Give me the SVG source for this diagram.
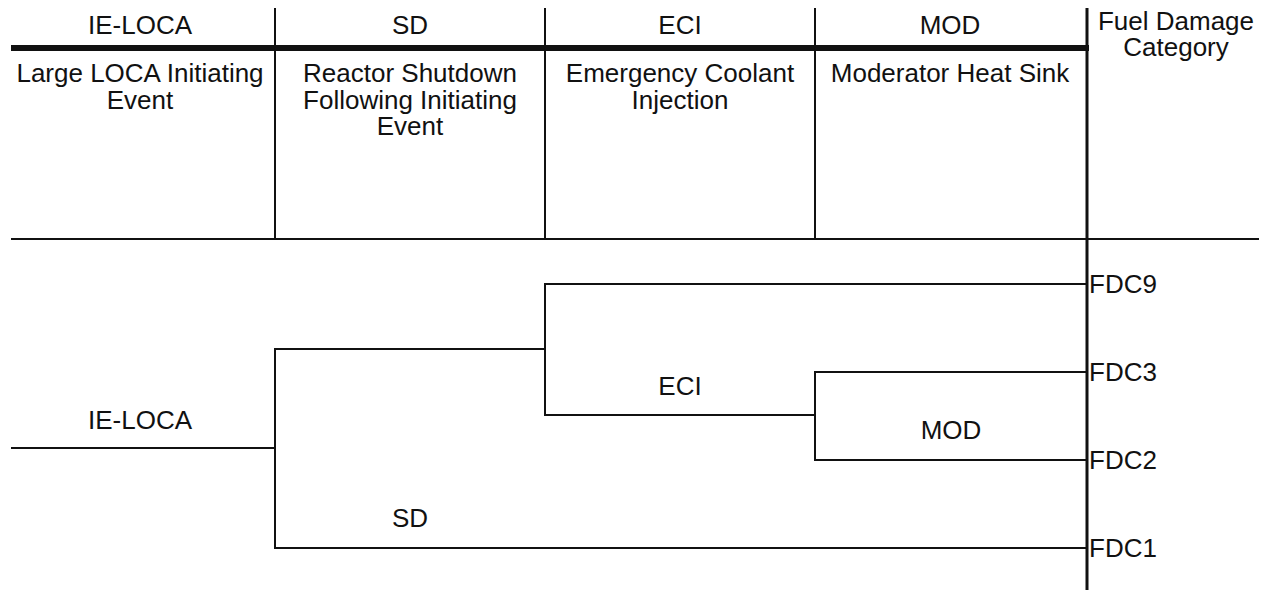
<svg xmlns="http://www.w3.org/2000/svg" width="1267" height="590" viewBox="0 0 1267 590">
<style>
  text { font-family: "Liberation Sans", Arial, sans-serif; font-size: 26px; fill: #111; }
  .c { text-anchor: middle; }
  .ln { stroke: #111; stroke-width: 2; fill: none; }
  .thick { stroke: #111; stroke-width: 6; fill: none; }
  .rule { stroke: #111; stroke-width: 3; fill: none; }
</style>
<rect width="1267" height="590" fill="#fff"/>
<g id="header">
  <line class="thick" x1="11" y1="48" x2="1089" y2="48"/>
  <line class="ln" x1="275" y1="8" x2="275" y2="239"/>
  <line class="ln" x1="545" y1="8" x2="545" y2="239"/>
  <line class="ln" x1="815" y1="8" x2="815" y2="239"/>
  <line class="rule" x1="1087" y1="8" x2="1087" y2="590"/>
  <line class="ln" x1="11" y1="239" x2="1259" y2="239"/>
  <g id="col-ie-loca">
    <text class="c" x="140" y="34">IE-LOCA</text>
    <text class="c" x="140" y="82">Large LOCA Initiating</text>
    <text class="c" x="140" y="108.5">Event</text>
  </g>
  <g id="col-sd">
    <text class="c" x="410" y="34">SD</text>
    <text class="c" x="410" y="82">Reactor Shutdown</text>
    <text class="c" x="410" y="108.5">Following Initiating</text>
    <text class="c" x="410" y="135">Event</text>
  </g>
  <g id="col-eci">
    <text class="c" x="680" y="34">ECI</text>
    <text class="c" x="680" y="82">Emergency Coolant</text>
    <text class="c" x="680" y="108.5">Injection</text>
  </g>
  <g id="col-mod">
    <text class="c" x="950" y="34">MOD</text>
    <text class="c" x="950" y="82">Moderator Heat Sink</text>
  </g>
  <g id="col-fdc">
    <text class="c" x="1176" y="30">Fuel Damage</text>
    <text class="c" x="1176" y="56">Category</text>
  </g>
</g>
<g id="connectors">
  <polyline class="ln" points="11,448 275,448"/>
  <polyline class="ln" points="545,349 275,349 275,548 1087,548"/>
  <polyline class="ln" points="1087,284 545,284 545,415 815,415"/>
  <polyline class="ln" points="1087,372 815,372 815,460 1087,460"/>
</g>
<g id="node-ie-loca"><text class="c" x="140" y="429">IE-LOCA</text></g>
<g id="node-sd"><text class="c" x="410" y="527">SD</text></g>
<g id="node-eci"><text class="c" x="680" y="395">ECI</text></g>
<g id="node-mod"><text class="c" x="951" y="439">MOD</text></g>
<g id="node-fdc9"><text x="1089" y="293">FDC9</text></g>
<g id="node-fdc3"><text x="1089" y="381">FDC3</text></g>
<g id="node-fdc2"><text x="1089" y="469">FDC2</text></g>
<g id="node-fdc1"><text x="1089" y="557">FDC1</text></g>
</svg>
